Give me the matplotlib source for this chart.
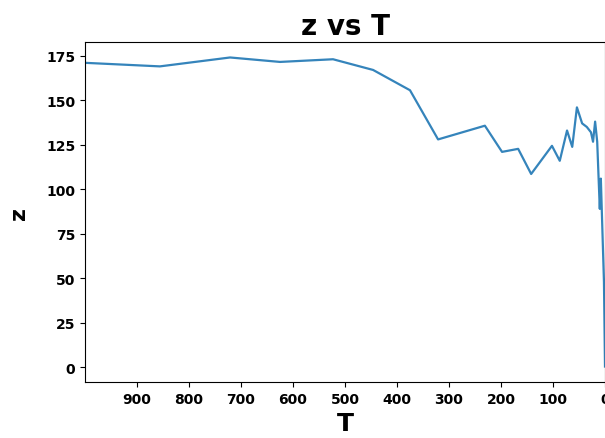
import matplotlib.pyplot as plt

# temperature and z values
T = [1000, 856, 721, 625, 523, 446, 375, 321, 231, 198, 167, 142, 102, 87, 73, 63,
     54, 44, 35, 27, 23, 19, 15, 12, 10, 8, 2, 0]
z = [171, 169, 174, 171.5, 173, 167, 155.6, 128, 135.7, 121, 122.7, 108.6, 124.4, 116,
     133, 123.8, 146, 137, 135, 132, 126.7, 138, 126.7, 104, 89, 106, 48, 0.5]

fig = plt.figure(figsize=(6.05, 4.39), dpi=100)
ax = fig.add_axes([0.1405, 0.1276, 0.8595, 0.7744])
ax.plot(T, z, color="#1f77b4", linewidth=1.6, alpha=0.9)
ax.set_xlim(1000, 0)
ax.set_xticks([900, 800, 700, 600, 500, 400, 300, 200, 100, 0])
ax.set_yticks([0, 25, 50, 75, 100, 125, 150, 175])
ax.set_title("z vs T", fontsize=20, fontweight="bold")
ax.set_xlabel("T", fontsize=18, fontweight="bold")
ax.set_ylabel("z", fontsize=16, fontweight="bold", labelpad=12)
for lab in ax.get_xticklabels() + ax.get_yticklabels():
    lab.set_fontweight("bold")
plt.savefig("out.png", dpi=100)
